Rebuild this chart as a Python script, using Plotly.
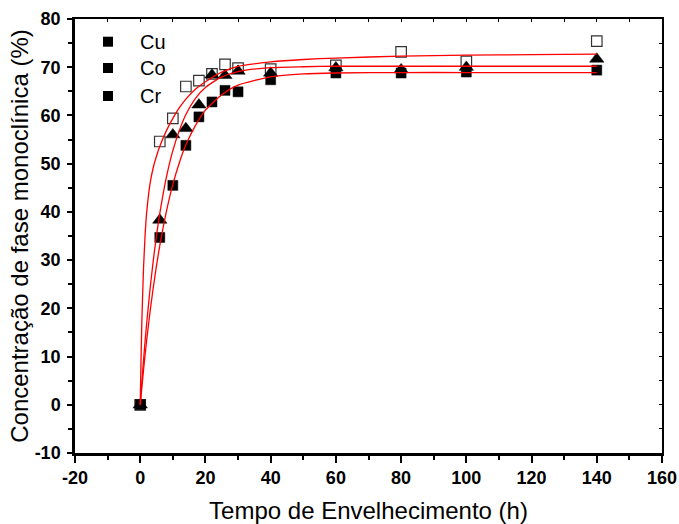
import plotly.graph_objects as go

# Aging time (h) and monoclinic phase fraction (%) for each dopant
time_h = [0, 6, 10, 14, 18, 22, 26, 30, 40, 60, 80, 100, 140]
cu_pct = [0, 54.6, 59.4, 66.0, 67.2, 68.6, 70.6, 69.8, 69.6, 70.4, 73.2, 71.2, 75.4]
co_pct = [0, 38.3, 56.0, 57.3, 62.2, 68.4, 68.3, 69.2, 68.8, 69.9, 69.5, 70.0, 71.7]
cr_pct = [0, 34.7, 45.5, 53.8, 59.7, 62.8, 65.2, 64.9, 67.4, 68.8, 68.8, 69.0, 69.4]

# Fitted kinetic curves sampled along the time axis
fit_time = [0, 0.25, 0.5, 1, 1.5, 2, 3, 4, 5, 6, 8, 10, 12, 14, 17, 20, 25, 30,
            40, 50, 60, 80, 100, 120, 140]
cu_fit = [0, 9.6, 17.2, 28.1, 35.2, 40.0, 45.8, 49.2, 51.6, 53.6, 56.8, 59.4, 61.6,
          63.4, 65.5, 67.0, 69.0, 70.2, 71.1, 71.6, 71.9, 72.3, 72.5, 72.6, 72.7]
co_fit = [0, 2.4, 4.7, 9.1, 13.2, 17.0, 23.9, 29.9, 35.1, 39.7, 47.1, 52.7, 56.9,
          60.2, 63.6, 65.8, 68.0, 69.1, 69.9, 70.1, 70.2, 70.2, 70.2, 70.2, 70.2]
cr_fit = [0, 1.8, 3.6, 7.1, 10.4, 13.5, 19.2, 24.3, 28.9, 33.0, 40.0, 45.7, 50.2,
          53.9, 58.0, 61.1, 64.3, 66.3, 68.0, 68.6, 68.8, 68.9, 68.9, 68.9, 68.9]

legend_names = ["Cu", "Co", "Cr"]

x_ticks = [-20, 0, 20, 40, 60, 80, 100, 120, 140, 160]
x_tick_text = ["-20", "0", "20", "40", "60", "80", "100", "120", "140", "160"]
y_ticks = [-10, 0, 10, 20, 30, 40, 50, 60, 70, 80]
y_tick_text = ["-10", "0", "10", "20", "30", "40", "50", "60", "70", "80"]

FONT = "Liberation Sans, Arial, sans-serif"

fig = go.Figure()

# Measured points
fig.add_trace(go.Scatter(
    x=time_h, y=cu_pct, mode="markers", name=legend_names[0], showlegend=False,
    marker=dict(symbol="square", size=10.5, color="white",
                line=dict(color="#333333", width=1.2))))
fig.add_trace(go.Scatter(
    x=time_h, y=cr_pct, mode="markers", name=legend_names[2], showlegend=False,
    marker=dict(symbol="square", size=10, color="black",
                line=dict(color="black", width=0.5))))
fig.add_trace(go.Scatter(
    x=time_h, y=co_pct, mode="markers", name=legend_names[1], showlegend=False,
    marker=dict(symbol="triangle-up", size=12.5, color="black",
                line=dict(color="black", width=0.5))))

# Fit curves
for fy in (cu_fit, co_fit, cr_fit):
    fig.add_trace(go.Scatter(
        x=fit_time, y=fy, mode="lines", showlegend=False,
        line=dict(color="red", width=1.3, shape="spline", smoothing=0.6)))

# Invisible trace to activate the mirrored (top/right) axes
fig.add_trace(go.Scatter(x=[None], y=[None], xaxis="x2", yaxis="y2",
                         showlegend=False, hoverinfo="skip"))

# Key in the upper-left corner: filled square + label for each dopant
key_x = 0.0562
key_text_x = 0.1073
key_rows = [0.9477, 0.8871, 0.8226]
half_w = 5 / 587
half_h = 5 / 434
shapes = []
annotations = []
for name, ky in zip(legend_names, key_rows):
    shapes.append(dict(type="rect", xref="paper", yref="paper",
                       x0=key_x - half_w, x1=key_x + half_w,
                       y0=ky - half_h, y1=ky + half_h,
                       fillcolor="black", line=dict(width=0)))
    annotations.append(dict(text=name, xref="paper", yref="paper",
                            x=key_text_x, y=ky, xanchor="left", yanchor="middle",
                            showarrow=False,
                            font=dict(family=FONT, size=20, color="black")))

tick_font = dict(family=FONT, size=18, color="black", weight="bold")
title_font = dict(family=FONT, size=24, color="black")

fig.update_layout(
    width=679, height=524,
    margin=dict(l=75, r=17, t=19, b=71),
    paper_bgcolor="white", plot_bgcolor="white",
    font=dict(family=FONT, color="black"),
    showlegend=False,
    shapes=shapes,
    annotations=annotations,
    xaxis=dict(
        range=[-20, 160], automargin=False,
        showline=True, linecolor="black", linewidth=2.5,
        showgrid=False, zeroline=False,
        tickmode="array", tickvals=x_ticks, ticktext=x_tick_text,
        ticks="outside", ticklen=7, tickwidth=2, tickcolor="black",
        ticklabelstandoff=0, tickfont=tick_font,
        minor=dict(ticks="outside", ticklen=4, tickwidth=1.5, dtick=10,
                   tick0=-20, tickcolor="black"),
        title=dict(text="Tempo de Envelhecimento (h)", font=title_font,
                   standoff=20),
    ),
    yaxis=dict(
        range=[-10, 80], automargin=False,
        showline=True, linecolor="black", linewidth=2.5,
        showgrid=False, zeroline=False,
        tickmode="array", tickvals=y_ticks, ticktext=y_tick_text,
        ticks="outside", ticklen=5, tickwidth=2, tickcolor="black",
        ticklabelstandoff=3, tickfont=tick_font,
        minor=dict(ticks="outside", ticklen=4, tickwidth=1.5, dtick=5,
                   tick0=-10, tickcolor="black"),
        title=dict(text="Concentração de fase monoclínica (%)", font=title_font,
                   standoff=0),
    ),
    xaxis2=dict(
        overlaying="x", side="top", range=[-20, 160], automargin=False,
        showline=True, linecolor="black", linewidth=1.5, showgrid=False,
        zeroline=False, ticks="inside", ticklen=3, tickwidth=1, dtick=10,
        tick0=-20, tickcolor="black", showticklabels=False,
    ),
    yaxis2=dict(
        overlaying="y", side="right", range=[-10, 80], automargin=False,
        showline=True, linecolor="black", linewidth=2, showgrid=False,
        zeroline=False, ticks="inside", ticklen=3, tickwidth=1, dtick=5,
        tick0=-10, tickcolor="black", showticklabels=False,
    ),
)

fig.write_html("out.html")
